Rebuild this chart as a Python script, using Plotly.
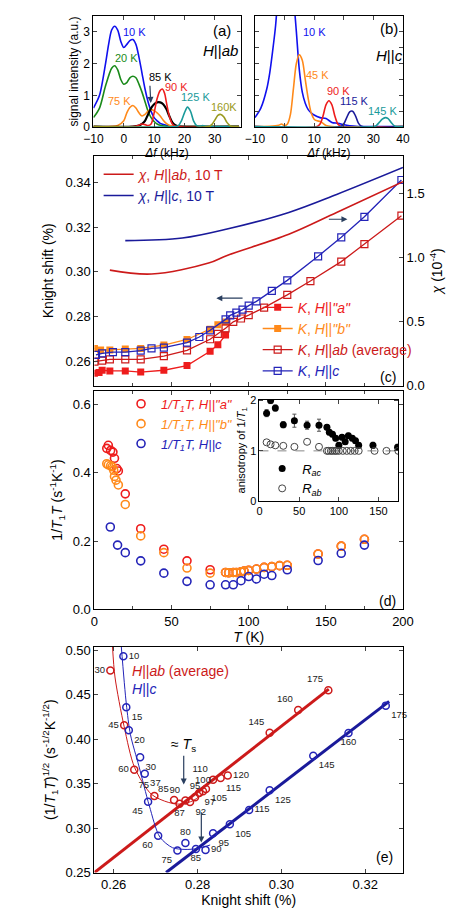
import plotly.graph_objects as go

FONT = "Arial, Liberation Sans, sans-serif"
# ---------- (a) spectra H||ab ----------
a10_x = [-10,-8,-6,-5,-4,-3,-2,-1,0,1,2,3,4,5,6,7,8,9,10,11,12,14,16,20,30,38]
a10_y = [0.6,1.0,2.0,2.6,3.05,3.17,3.05,2.7,2.5,2.6,2.72,2.75,2.6,2.2,1.7,1.2,0.8,0.5,0.3,0.2,0.12,0.06,0.03,0.02,0.02,0.02]
a20_x = [-10,-8,-6,-4,-3,-2,-1,0,1,2,3,4,5,6,7,8,9,10,11,12,14,16,20,38]
a20_y = [0.3,0.6,1.3,1.85,1.93,1.8,1.5,1.35,1.4,1.55,1.6,1.55,1.35,1.1,0.8,0.5,0.3,0.18,0.1,0.06,0.03,0.02,0.02,0.02]
a75_x = [-10,-2,0,1,2,3,4,5,6,7,8,9,10,11,12,13,14,15,16,18,38]
a75_y = [0.02,0.05,0.2,0.45,0.62,0.68,0.6,0.45,0.35,0.4,0.5,0.55,0.52,0.45,0.35,0.22,0.12,0.06,0.03,0.02,0.02]
a85_x = [-10,3,5,6,7,8,9,10,11,12,13,14,15,16,17,18,38]
a85_y = [0.02,0.02,0.05,0.1,0.2,0.4,0.6,0.72,0.78,0.78,0.72,0.58,0.35,0.15,0.06,0.03,0.02]
a90_x = [-10,4,6,7,8,9,10,11,12,12.7,13.5,14,15,16,17,38]
a90_y = [0.02,0.03,0.1,0.08,0.05,0.1,0.45,0.9,1.15,1.2,1.05,0.8,0.35,0.1,0.03,0.02]
a125_x = [-10,17,18,19,20,21,22,23,24,25,26,27,28,38]
a125_y = [0.02,0.02,0.05,0.2,0.45,0.63,0.5,0.2,0.05,0.03,0.05,0.03,0.02,0.02]
a160_x = [-10,28,29,30,31,32,33,34,35,36,38]
a160_y = [0.02,0.02,0.08,0.22,0.37,0.4,0.32,0.15,0.05,0.02,0.02]
# ---------- (b) spectra H||c ----------
b10_x = [-10,-8,-6,-5,-4,-3,-2,-1,0,1,2,3,4,5,6,7,8,9,10,12,14,16,18,20,22,25,40]
b10_y = [0.3,0.6,1.2,1.7,2.4,3.2,4.5,6,7,7,6,4.2,3.0,1.8,1.1,0.75,0.55,0.45,0.38,0.3,0.27,0.15,0.12,0.08,0.04,0.02,0.02]
b45_x = [-10,-5,-2,-1,0,1,2,3,4,5,6,7,8,9,10,11,12,13,14,16,40]
b45_y = [0.02,0.03,0.06,0.1,0.05,0.1,0.4,1.2,2.0,2.27,2.1,1.5,0.9,0.45,0.25,0.2,0.18,0.12,0.05,0.02,0.02]
b90_x = [-10,11,12,13,14,15,16,17,18,19,40]
b90_y = [0.02,0.02,0.1,0.35,0.7,0.83,0.7,0.35,0.1,0.03,0.02]
b115_x = [-10,19,20,21,22,23,24,25,26,40]
b115_y = [0.02,0.02,0.1,0.3,0.48,0.5,0.35,0.12,0.03,0.02]
b145_x = [-10,30,31,32,33,34,35,36,37,38,40]
b145_y = [0.02,0.02,0.05,0.15,0.25,0.3,0.27,0.15,0.05,0.02,0.02]
# ---------- (c) Knight shift and chi ----------
chi_ab_T = [10,37,74,86,126,157,200]
chi_ab = [0.90,0.87,0.955,1.015,1.18,1.35,1.59]
chi_c_T = [20,57,86,126,157,200]
chi_c = [1.13,1.15,1.22,1.35,1.49,1.70]
Kc_T = [1,5,12,20,30,37,45,60,68,75,85,88,92,96,100,105,115,125,145,160,175,199]
Kc = [0.2628,0.2635,0.2640,0.2640,0.2647,0.2657,0.2660,0.2683,0.2708,0.2738,0.2787,0.2805,0.2817,0.2831,0.2849,0.2868,0.2915,0.2962,0.3070,0.3155,0.3247,0.3412]
Kab_T = [0,5,10,20,30,45,60,75,80,85,90,95,100,110,125,140,160,175,199]
Kab = [0.2598,0.2602,0.2608,0.2608,0.2608,0.2622,0.2648,0.2698,0.2722,0.2747,0.2776,0.2791,0.2806,0.2840,0.2897,0.2959,0.3046,0.3125,0.3252]
Ka_T = [0,3,5,10,20,30,45,60,75,80,85]
Ka = [0.2545,0.2549,0.2559,0.2556,0.2556,0.2551,0.2559,0.2580,0.2644,0.2673,0.2717]
Kb_T = [0,4,10,20,30,45,60,75,80,85]
Kb = [0.2657,0.2650,0.2650,0.2654,0.2657,0.2672,0.2697,0.2743,0.2763,0.2775]
# ---------- (d) 1/T1T ----------
da_T = [8,9,10.5,12,13,14.5,15.5,20,30,45,60,75,85,87,90,92,95,97,100,105,110,115,120,125,145,160,175]
da = [0.471,0.480,0.465,0.46,0.442,0.412,0.405,0.338,0.236,0.176,0.142,0.116,0.108,0.107,0.108,0.108,0.110,0.112,0.114,0.118,0.123,0.125,0.128,0.129,0.162,0.185,0.205]
db_T = [8,9,10.5,11.5,12.5,13,14,15.5,20,30,45,60,75,85,87,90,92,95,97,100,105,110,115,120,125,145,160,175]
db = [0.426,0.423,0.42,0.417,0.407,0.389,0.378,0.364,0.307,0.215,0.166,0.121,0.106,0.108,0.107,0.108,0.108,0.11,0.112,0.114,0.118,0.123,0.125,0.128,0.129,0.162,0.185,0.205]
dc_T = [10.3,15,20,30,45,60,75,85,90,95,100,105,110,115,125,145,160,175]
dc = [0.241,0.188,0.166,0.142,0.106,0.082,0.072,0.072,0.072,0.084,0.096,0.089,0.103,0.099,0.116,0.143,0.164,0.188]
# inset anisotropy
rac_T = [9,14,20,30,44,60,75,85,88,92,96,100,104,108,112,117,121,125,143,174]
rac = [1.75,2.0,1.85,1.52,1.6,1.51,1.51,1.47,1.37,1.33,1.25,1.11,1.27,1.18,1.3,1.25,1.2,1.11,1.11,1.07]
rac_err = [0.07,0.06,0.06,0.06,0.13,0.08,0.12,0.05,0.05,0.05,0.05,0.05,0.05,0.05,0.05,0.05,0.05,0.05,0.06,0.06]
rab_T = [9,14,20,30,44,60,75,85,87,90,92,95,97,100,105,110,115,120,125,145,160,175]
rab = [1.17,1.13,1.11,1.1,1.08,1.18,1.08,1,1,1,1,1,1,1,1,1,1,1,1,1,1,1]
# ---------- (e) sqrt(1/T1T) vs K ----------
eab_T = [30,45,60,75,85,87,90,92,95,97,100,105,110,115,120,145,160,175]
eab_K = [0.2592,0.2625,0.2649,0.2697,0.2744,0.2757,0.2771,0.2782,0.2794,0.2804,0.2813,0.2820,0.2837,0.2855,0.2872,0.2972,0.3040,0.3112]
eab_y = [0.4774,0.4156,0.3656,0.3360,0.3315,0.3274,0.3311,0.3293,0.3348,0.3396,0.3415,0.3441,0.3544,0.3563,0.3593,0.4074,0.4330,0.4552]
eab_pos = ["middle left","middle left","middle left","top left","top left","bottom center","top left","bottom right","top center","bottom right","top center","bottom right","top left","bottom right","middle right","top left","top left","top left"]
ec_T = [10,15,20,30,37,45,60,75,80,85,90,95,105,115,125,145,160,175]
ec_K = [0.2623,0.2630,0.2636,0.2663,0.2674,0.2682,0.2706,0.2752,0.2771,0.2796,0.2819,0.2837,0.2877,0.2923,0.2972,0.3076,0.3160,0.3249]
ec_y = [0.4933,0.4359,0.4100,0.3796,0.3611,0.3296,0.2915,0.2748,0.2833,0.2766,0.2755,0.2941,0.3044,0.3204,0.3426,0.3815,0.4070,0.4378]
ec_pos = ["middle right","bottom right","bottom right","bottom right","bottom right","bottom left","bottom left","bottom left","top center","bottom center","middle right","bottom right","bottom right","middle right","bottom right","bottom right","bottom center","bottom right"]
fit_ab_K = [0.2597,0.2603,0.2625,0.2650,0.2690,0.2730,0.2760,0.2790,0.2810]
fit_ab_y = [0.505,0.47,0.414,0.368,0.338,0.329,0.327,0.331,0.338]
fit_c_K = [0.2618,0.2630,0.2640,0.2660,0.2685,0.2710,0.2740,0.2770,0.2800,0.2830]
fit_c_y = [0.505,0.44,0.405,0.37,0.325,0.29,0.278,0.276,0.277,0.281]
lin_ab_K = [0.2554,0.3113]
lin_ab_y = [0.25,0.4563]
lin_c_K = [0.2725,0.3257]
lin_c_y = [0.25,0.4426]

BLUE = "#1010ee"; GREEN = "#1a8a1a"; ORANGE = "#ff8a1a"; RED = "#ee1c1c"
DRED = "#cc1a1a"; NAVY = "#1a1a9a"; TEAL = "#1a9a9a"; OLIVE = "#9a9a20"; DBLUE = "#2424b8"

fig = go.Figure()
def line(x, y, c, xa, ya, w=1.6, **kw):
    fig.add_trace(go.Scatter(x=x, y=y, mode="lines", line=dict(color=c, width=w, shape="spline", smoothing=0.8),
                             xaxis=xa, yaxis=ya, showlegend=False, **kw))

for x, y, c in [(a10_x,a10_y,BLUE),(a20_x,a20_y,GREEN),(a75_x,a75_y,ORANGE),(a85_x,a85_y,"black"),
                (a90_x,a90_y,RED),(a125_x,a125_y,TEAL),(a160_x,a160_y,OLIVE)]:
    line(x, y, c, "x", "y", w=2.2 if c == "black" else 1.6)
for x, y, c in [(b10_x,b10_y,BLUE),(b45_x,b45_y,ORANGE),(b90_x,b90_y,RED),(b115_x,b115_y,NAVY),(b145_x,b145_y,TEAL)]:
    line(x, y, c, "x2", "y2")

# (c)
fig.add_trace(go.Scatter(x=chi_ab_T, y=chi_ab, mode="lines", line=dict(color=DRED, width=1.6, shape="spline"),
    xaxis="x3", yaxis="y4", name="<span style='color:#cc1a1a'><i>χ</i>, <i>H</i>||<i>ab</i>, 10 T</span>", legend="legend"))
fig.add_trace(go.Scatter(x=chi_c_T, y=chi_c, mode="lines", line=dict(color=NAVY, width=1.6, shape="spline"),
    xaxis="x3", yaxis="y4", name="<span style='color:#1a1a9a'><i>χ</i>, <i>H</i>||<i>c</i>, 10 T</span>", legend="legend"))
fig.add_trace(go.Scatter(x=Ka_T, y=Ka, mode="lines+markers", line=dict(color=RED, width=1.3),
    marker=dict(symbol="square", size=7, color=RED), xaxis="x3", yaxis="y3",
    name="<span style='color:#ee1c1c'><i>K</i>, <i>H</i>||<i>\"a\"</i></span>", legend="legend2"))
fig.add_trace(go.Scatter(x=Kb_T, y=Kb, mode="lines+markers", line=dict(color=ORANGE, width=1.3),
    marker=dict(symbol="square", size=7, color=ORANGE), xaxis="x3", yaxis="y3",
    name="<span style='color:#ff8a1a'><i>K</i>, <i>H</i>||<i>\"b\"</i></span>", legend="legend2"))
fig.add_trace(go.Scatter(x=Kab_T, y=Kab, mode="lines+markers", line=dict(color=DRED, width=1.3),
    marker=dict(symbol="square-open", size=7, color=DRED, line=dict(width=1.2)), xaxis="x3", yaxis="y3",
    name="<span style='color:#cc1a1a'><i>K</i>, <i>H</i>||<i>ab</i> (average)</span>", legend="legend2"))
fig.add_trace(go.Scatter(x=Kc_T, y=Kc, mode="lines+markers", line=dict(color=DBLUE, width=1.3),
    marker=dict(symbol="square-open", size=7, color=DBLUE, line=dict(width=1.2)), xaxis="x3", yaxis="y3",
    name="<span style='color:#2424b8'><i>K</i>, <i>H</i>||<i>c</i></span>", legend="legend2"))

# (d)
for T, v, c, nm in [(da_T, da, RED, "<span style='color:#ee1c1c'><i>1/T<sub>1</sub>T, H||\"a\"</i></span>"),
                    (db_T, db, ORANGE, "<span style='color:#ff8a1a'><i>1/T<sub>1</sub>T, H||\"b\"</i></span>"),
                    (dc_T, dc, DBLUE, "<span style='color:#2424b8'><i>1/T<sub>1</sub>T, H||c</i></span>")]:
    fig.add_trace(go.Scatter(x=T, y=v, mode="markers", marker=dict(symbol="circle-open", size=8, color=c, line=dict(width=1.6)),
        xaxis="x5", yaxis="y5", name=nm, legend="legend3"))
fig.add_trace(go.Scatter(x=rac_T, y=rac, mode="markers", marker=dict(symbol="circle", size=7, color="black"),
    error_y=dict(type="data", array=rac_err, color="#555", thickness=1, width=2),
    xaxis="x6", yaxis="y6", name="<i>R<sub>ac</sub></i>", legend="legend4"))
fig.add_trace(go.Scatter(x=rab_T, y=rab, mode="markers", marker=dict(symbol="circle-open", size=7, color="#444", line=dict(width=1)),
    xaxis="x6", yaxis="y6", name="<i>R<sub>ab</sub></i>", legend="legend4"))

# (e)
fig.add_trace(go.Scatter(x=lin_ab_K, y=lin_ab_y, mode="lines", line=dict(color=DRED, width=3), xaxis="x7", yaxis="y7", showlegend=False))
fig.add_trace(go.Scatter(x=lin_c_K, y=lin_c_y, mode="lines", line=dict(color=NAVY, width=3), xaxis="x7", yaxis="y7", showlegend=False))
line(fit_ab_K, fit_ab_y, DRED, "x7", "y7", w=1)
line(fit_c_K, fit_c_y, DBLUE, "x7", "y7", w=1)
fig.add_trace(go.Scatter(x=eab_K, y=eab_y, mode="markers+text", text=[str(t) for t in eab_T], textposition=eab_pos,
    textfont=dict(size=9.5, color="#222"), marker=dict(symbol="circle-open", size=7, color=DRED, line=dict(width=1.5)),
    xaxis="x7", yaxis="y7", showlegend=False, cliponaxis=False))
fig.add_trace(go.Scatter(x=ec_K, y=ec_y, mode="markers+text", text=[str(t) for t in ec_T], textposition=ec_pos,
    textfont=dict(size=9.5, color="#222"), marker=dict(symbol="circle-open", size=7, color=DBLUE, line=dict(width=1.5)),
    xaxis="x7", yaxis="y7", showlegend=False, cliponaxis=False))

ax = dict(showline=True, linecolor="black", linewidth=1, ticks="inside", ticklen=4, mirror="ticks",
          showgrid=False, zeroline=False, tickfont=dict(size=13, family=FONT, color="black"))
def A(**kw):
    d = dict(ax); d.update(kw); return d

XA = [0.1684, 0.4968]; XB = [0.5288, 0.8593]; XM = [0.1706, 0.8593]
tf11 = dict(size=12, family=FONT, color="black")
fig.update_layout(
    width=469, height=912, margin=dict(l=0, r=0, t=0, b=0),
    paper_bgcolor="white", plot_bgcolor="white", font=dict(family=FONT, color="black"),
    xaxis=A(domain=XA, anchor="y", range=[-10, 38.5], tickvals=[-10,0,10,20,30], tickfont=tf11,
            title=dict(text="<i>Δf</i> (kHz)", font=dict(size=12), standoff=2)),
    yaxis=A(domain=[0.873, 0.997], anchor="x", range=[0, 3.5], tickvals=[0,1,2,3], tickfont=tf11,
            title=dict(text="signal intensity (a.u.)", font=dict(size=12), standoff=2)),
    xaxis2=A(domain=XB, anchor="y2", range=[-10, 40], tickvals=[-10,0,10,20,30,40], tickfont=tf11,
             title=dict(text="<i>Δf</i> (kHz)", font=dict(size=12), standoff=2)),
    yaxis2=A(domain=[0.873, 0.997], anchor="x2", range=[0, 3.5], tickvals=[0,0.5,1,1.5,2,2.5,3], showticklabels=False),
    xaxis3=A(domain=XM, anchor="y3", range=[0, 200], dtick=50, showticklabels=False, minor=dict(ticks="inside", ticklen=3, dtick=25)),
    yaxis3=A(domain=[0.5855, 0.841], anchor="x3", range=[0.249, 0.352], tickvals=[0.26,0.28,0.30,0.32,0.34],
             tickformat=".2f", mirror=False, title=dict(text="Knight shift (%)", font=dict(size=14), standoff=8)),
    yaxis4=A(overlaying="y3", anchor="x3", side="right", range=[0, 1.79], tickvals=[0,0.5,1,1.5], tickformat=".1f",
             mirror=False, title=dict(text="<i>χ</i> (10<sup>-4</sup>)", font=dict(size=14), standoff=8)),
    xaxis5=A(domain=XM, anchor="y5", range=[0, 200], dtick=50, minor=dict(ticks="inside", ticklen=3, dtick=25),
             title=dict(text="<i>T</i> (K)", font=dict(size=14), standoff=2)),
    yaxis5=A(domain=[0.3366, 0.580], anchor="x5", range=[0, 0.64], tickvals=[0,0.2,0.4,0.6], tickformat=".1f",
             title=dict(text="1/<i>T</i><sub>1</sub><i>T</i> (s<sup>-1</sup>K<sup>-1</sup>)", font=dict(size=14), standoff=6)),
    xaxis6=A(domain=[0.539, 0.849], anchor="y6", range=[0, 175], tickvals=[0,50,100,150], tickfont=dict(size=11)),
    yaxis6=A(domain=[0.457, 0.570], anchor="x6", range=[0, 2.02], tickvals=[0,1,2], tickfont=dict(size=11),
             title=dict(text="anisotropy of 1/<i>T</i><sub>1</sub>", font=dict(size=11), standoff=2)),
    xaxis7=A(domain=XM, anchor="y7", range=[0.2554, 0.329], tickvals=[0.26,0.28,0.30,0.32], tickformat=".2f",
             title=dict(text="Knight shift (%)", font=dict(size=14), standoff=2)),
    yaxis7=A(domain=[0.0439, 0.295], anchor="x7", range=[0.25, 0.504], tickvals=[0.25,0.30,0.35,0.40,0.45,0.50], tickformat=".2f",
             title=dict(text="(1/<i>T</i><sub>1</sub><i>T</i>)<sup>1/2</sup> (s<sup>-1/2</sup>K<sup>-1/2</sup>)", font=dict(size=14), standoff=6)),
    legend=dict(x=0.18, y=0.838, xanchor="left", yanchor="top", bgcolor="rgba(0,0,0,0)", font=dict(size=14),
                tracegroupgap=0, itemwidth=30),
    legend2=dict(x=0.535, y=0.69, xanchor="left", yanchor="top", bgcolor="rgba(0,0,0,0)", font=dict(size=14), itemwidth=30),
    legend3=dict(x=0.23, y=0.582, xanchor="left", yanchor="top", bgcolor="rgba(0,0,0,0)", font=dict(size=13), itemwidth=30),
    legend4=dict(x=0.545, y=0.51, xanchor="left", yanchor="top", bgcolor="rgba(0,0,0,0)", font=dict(size=13), itemwidth=30),
)

def ann(x, y, t, xa, ya, c="black", s=11, **kw):
    fig.add_annotation(x=x, y=y, text=t, xref=xa, yref=ya, showarrow=False, font=dict(size=s, color=c, family=FONT), **kw)

for x, y, t, c in [(3.5,3.0,"10 K",BLUE),(1.0,2.17,"20 K",GREEN),(-1.25,0.83,"75 K",ORANGE),(12,1.56,"85 K","black"),
                   (17.5,1.26,"90 K",RED),(23.7,0.94,"125 K",TEAL),(33.1,0.63,"160K",OLIVE)]:
    ann(x, y, t, "x", "y", c)
ann(32.5, 3.05, "(a)", "x", "y", s=15)
ann(32, 2.4, "<i>H</i>||<i>ab</i>", "x", "y", s=15)
fig.add_annotation(x=8.9, y=0.76, ax=8.6, ay=1.35, xref="x", yref="y", axref="x", ayref="y", showarrow=True,
                   arrowhead=2, arrowsize=1, arrowwidth=1.2, text="")
for x, y, t, c in [(10,3.0,"10 K",BLUE),(11.2,1.65,"45 K",ORANGE),(18.3,1.14,"90 K",RED),(23.8,0.81,"115 K",NAVY),(33,0.52,"145 K",TEAL)]:
    ann(x, y, t, "x2", "y2", c)
ann(35.3, 3.1, "(b)", "x2", "y2", s=15)
ann(35.3, 2.25, "<i>H</i>||<i>c</i>", "x2", "y2", s=15)

ann(190, 0.2528, "(c)", "x3", "y3", s=14)
fig.add_annotation(x=79, y=0.2882, ax=97, ay=0.2882, xref="x3", yref="y3", axref="x3", ayref="y3",
                   showarrow=True, arrowhead=2, arrowwidth=1.2, text="")
fig.add_annotation(x=164, y=0.3236, ax=151, ay=0.3236, xref="x3", yref="y3", axref="x3", ayref="y3",
                   showarrow=True, arrowhead=2, arrowwidth=1.2, text="")
ann(190, 0.025, "(d)", "x5", "y5", s=14)
fig.add_shape(type="line", x0=0, x1=175, y0=1, y1=1, xref="x6", yref="y6", line=dict(color="#888", width=1, dash="dash"), layer="below")

ann(0.3245, 0.268, "(e)", "x7", "y7", s=14)
ann(0.2640, 0.477, "<i>H</i>||<i>ab</i> (average)", "x7", "y7", c=DRED, s=14, xanchor="left")
ann(0.2640, 0.457, "<i>H</i>||<i>c</i>", "x7", "y7", c=DBLUE, s=14, xanchor="left")
ann(0.2767, 0.393, "≈ <i>T</i><sub>s</sub>", "x7", "y7", s=14)
fig.add_annotation(x=0.2767, y=0.349, ax=0.2767, ay=0.383, xref="x7", yref="y7", axref="x7", ayref="y7",
                   showarrow=True, arrowhead=2, arrowwidth=1.2, text="")
fig.add_annotation(x=0.2809, y=0.2837, ax=0.2809, ay=0.3194, xref="x7", yref="y7", axref="x7", ayref="y7",
                   showarrow=True, arrowhead=2, arrowwidth=1.2, text="")

fig.write_html("out.html")
